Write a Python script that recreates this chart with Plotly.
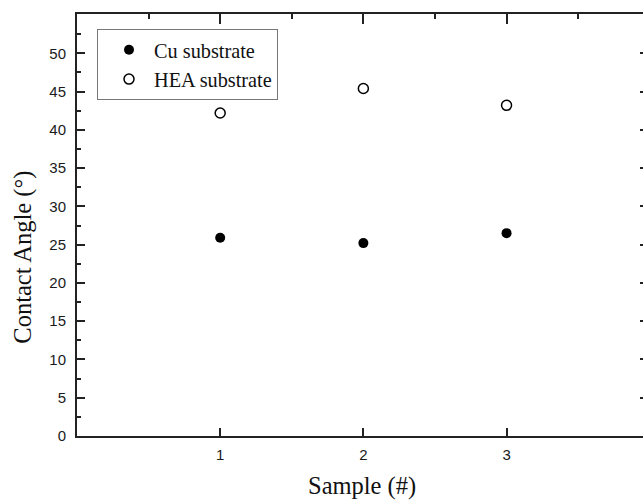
import plotly.graph_objects as go

samples = [1, 2, 3]
cu_angle = [25.9, 25.2, 26.5]
hea_angle = [42.2, 45.4, 43.2]
x_tick_vals = [1, 2, 3]
x_tick_text = ["1", "2", "3"]
y_tick_vals = [0, 5, 10, 15, 20, 25, 30, 35, 40, 45, 50]
y_tick_text = [str(v) for v in y_tick_vals]
y_minor_vals = [2.5, 7.5, 12.5, 17.5, 22.5, 27.5, 32.5, 37.5, 42.5, 47.5, 52.5]
x_minor_vals = [0.5, 1.5, 2.5, 3.5]
x_title = "Sample (#)"
y_title = "Contact Angle (°)"

XR = [0, 3.953]
YR = [0, 55.13]
LINE = "#222222"

W, H = 643, 502
ML, MR, MT, MB = 77, 0, 14, 65.5
PW = W - ML - MR
PH = H - MT - MB

def px_to_paper_x(page_x):
    return (page_x - ML) / PW

def px_to_paper_y(page_y):
    return (H - MB - page_y) / PH

fig = go.Figure()
fig.add_trace(go.Scatter(
    x=samples, y=cu_angle, mode="markers", name="Cu substrate",
    marker=dict(symbol="circle", size=10, color="black", line=dict(width=0)),
))
fig.add_trace(go.Scatter(
    x=samples, y=hea_angle, mode="markers", name="HEA substrate",
    marker=dict(symbol="circle-open", size=10, color="black", line=dict(width=1.5, color="black")),
))
# helper trace so the mirrored tick axes render
fig.add_trace(go.Scatter(
    x=samples, y=cu_angle, xaxis="x2", yaxis="y2", mode="markers",
    marker=dict(opacity=0), showlegend=False, hoverinfo="skip",
))

tick_font = dict(family="Liberation Sans, Arial", size=15, color="#1a1a1a")
title_font = dict(family="Liberation Serif, Times New Roman", size=24.5, color="#111111")

fig.update_layout(
    width=W, height=H,
    margin=dict(l=ML, r=MR, t=MT, b=MB, pad=0),
    paper_bgcolor="white", plot_bgcolor="white",
    showlegend=True,
    legend=dict(
        x=px_to_paper_x(97), y=px_to_paper_y(29), xanchor="left", yanchor="top",
        bordercolor="#777777", borderwidth=1, bgcolor="white",
        font=dict(family="Liberation Serif, Times New Roman", size=20.3, color="#111111"),
        itemwidth=40, indentation=6, tracegroupgap=0,
    ),
    xaxis=dict(
        range=XR, showgrid=False, zeroline=False,
        showline=True, linecolor=LINE, linewidth=2,
        tickmode="array", tickvals=x_tick_vals, ticktext=x_tick_text,
        ticks="inside", ticklen=8, tickwidth=1.5, tickcolor=LINE,
        tickfont=tick_font, ticklabelstandoff=4,
    ),
    xaxis2=dict(
        range=XR, overlaying="x", side="top", anchor="y",
        showgrid=False, zeroline=False,
        showline=True, linecolor=LINE, linewidth=2,
        tickmode="array", tickvals=x_tick_vals, showticklabels=False,
        ticks="inside", ticklen=10, tickwidth=1.5, tickcolor=LINE,
        minor=dict(tickmode="array", tickvals=x_minor_vals, ticks="inside", ticklen=5,
                   tickwidth=1.5, tickcolor=LINE, showgrid=False),
    ),
    yaxis=dict(
        range=YR, showgrid=False, zeroline=False,
        showline=True, linecolor=LINE, linewidth=2,
        tickmode="array", tickvals=y_tick_vals, ticktext=y_tick_text,
        ticks="inside", ticklen=8, tickwidth=1.5, tickcolor=LINE,
        minor=dict(tickmode="array", tickvals=y_minor_vals, ticks="inside", ticklen=4,
                   tickwidth=1.5, tickcolor=LINE, showgrid=False),
        tickfont=tick_font, ticklabelstandoff=6,
    ),
    yaxis2=dict(
        range=YR, overlaying="y", side="right", anchor="x",
        showgrid=False, zeroline=False, showline=False,
        tickmode="array", tickvals=y_tick_vals, showticklabels=False,
        ticks="inside", ticklen=3, tickwidth=1.5, tickcolor=LINE,
    ),
    annotations=[
        dict(text=x_title, xref="paper", yref="paper",
             x=px_to_paper_x(362), y=px_to_paper_y(487),
             xanchor="center", yanchor="middle", showarrow=False, font=title_font),
        dict(text=y_title, xref="paper", yref="paper", textangle=-90,
             x=px_to_paper_x(23), y=px_to_paper_y(258),
             xanchor="center", yanchor="middle", showarrow=False, font=title_font),
    ],
)

fig.write_html(
    "out.html",
    config={"displayModeBar": False},
    post_script="document.body.style.margin='0';document.body.style.overflow='hidden';",
)
